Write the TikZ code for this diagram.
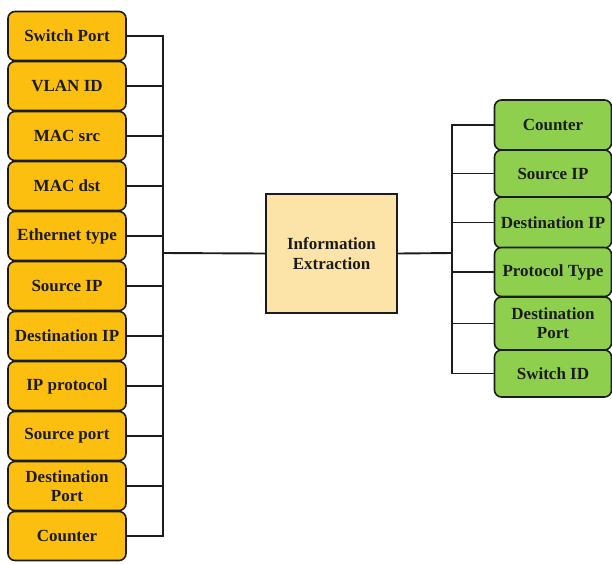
\documentclass[tikz,border=0pt]{standalone}
\usepackage{fontspec}
\setmainfont{Liberation Serif}
\definecolor{fieldorange}{HTML}{FDBF0F}
\definecolor{fieldgreen}{HTML}{8FCF4E}
\definecolor{extractfill}{HTML}{FCE4A8}
\definecolor{edgegray}{HTML}{1C1C1C}
\begin{document}
\begin{tikzpicture}[x=1pt,y=-1pt,
    field/.style={draw=edgegray,line width=1.6pt,rounded corners=7pt,align=center,
        inner sep=1pt,text=edgegray,font=\fontsize{17}{19}\selectfont\bfseries},
    infield/.style={field,fill=fieldorange,minimum width=118pt,minimum height=49pt},
    outfield/.style={field,fill=fieldgreen,minimum width=117pt},
    wire/.style={draw=edgegray,line width=1.9pt}]
    \useasboundingbox (0,0) rectangle (612,563);

    % packet header fields
    \foreach \i/\ltext in {1/Switch Port,2/VLAN ID,3/MAC src,4/MAC dst,5/Ethernet type,
        6/Source IP,7/Destination IP,8/IP protocol,9/Source port,10/{Destination\\Port},11/Counter}
        \node[infield] (l\i) at (67,{36+50*(\i-1)}) {\ltext};

    \node[draw=edgegray,line width=1.6pt,fill=extractfill,minimum width=131pt,minimum height=119pt,
        align=center,text=edgegray,font=\fontsize{17}{20}\selectfont\bfseries]
        (info) at (331.5,253.5) {Information\\Extraction};

    % extracted features
    \foreach \i/\yc/\h/\rtext in {1/125/50/Counter,2/173.5/47/Source IP,3/222.5/51/Destination IP,
        4/272/49/Protocol Type,5/323.5/53/{Destination\\Port},6/373.5/47/Switch ID}
        \node[outfield,minimum height=\h pt] (r\i) at (553,\yc) {\rtext};

    \coordinate (ljoin) at (163,253);
    \coordinate (rjoin) at (452,253);
    \foreach \i in {1,...,11} \draw[wire] (l\i.east) -| (ljoin);
    \draw[wire] (ljoin) -- (info.west);
    \draw[wire] (info.east) -- (rjoin);
    \foreach \i in {1,...,6} \draw[wire] (rjoin) |- (r\i.west);
\end{tikzpicture}
\end{document}
